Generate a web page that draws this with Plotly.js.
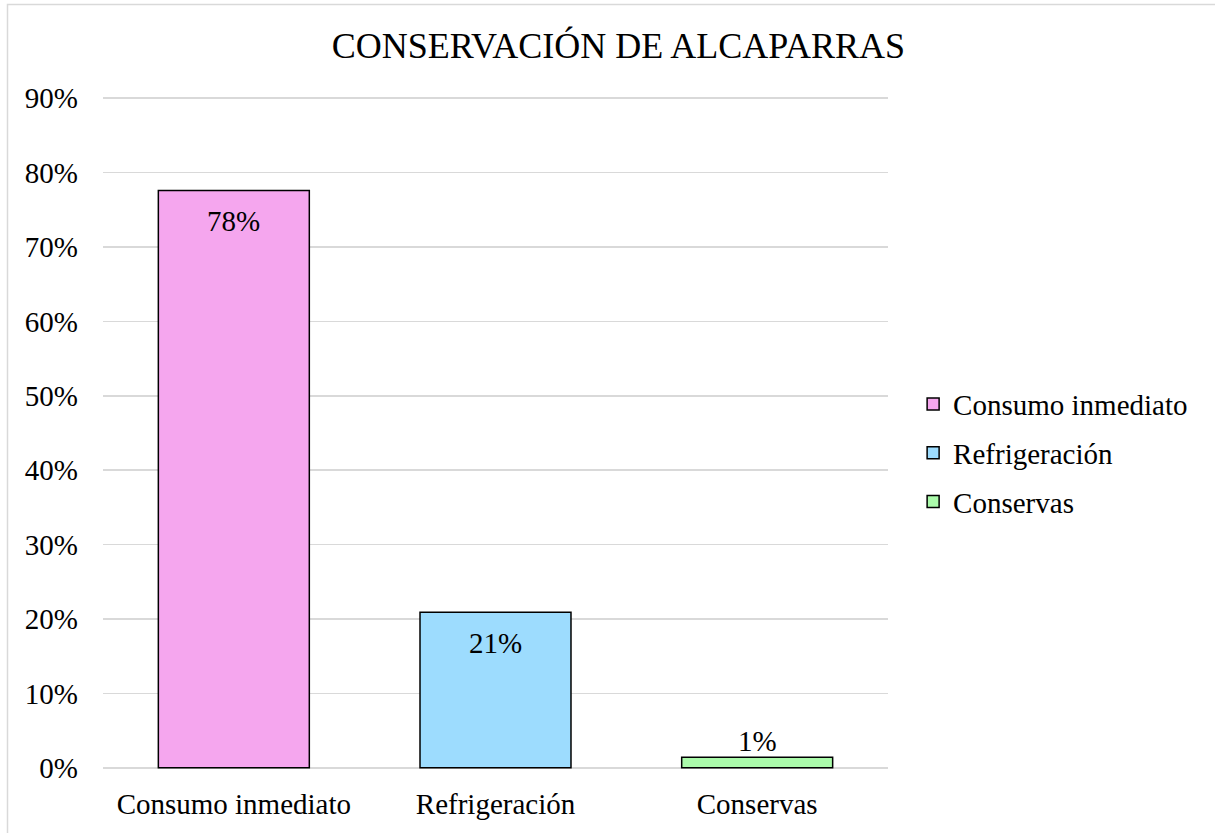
<!DOCTYPE html>
<html>
<head>
<meta charset="utf-8">
<script src="https://cdn.plot.ly/plotly-3.0.1.min.js"></script>
<style>html,body{margin:0;padding:0;background:#fff;}#chart{width:1215px;height:833px;}</style>
</head>
<body>
<div id="chart"></div>
<script>
const categories = ["Consumo inmediato", "Refrigeración", "Conservas"];
const values = [0.776, 0.209, 0.014];
const labels = ["78%", "21%", "1%"];
const colors = ["#F5A6EE", "#9DDCFE", "#ABFBAB"];
const yTicks = [0, 0.1, 0.2, 0.3, 0.4, 0.5, 0.6, 0.7, 0.8, 0.9];
const yTickText = ["0%", "10%", "20%", "30%", "40%", "50%", "60%", "70%", "80%", "90%"];

const FONT = "'Liberation Serif', 'Times New Roman', serif";

const traces = categories.map((c, i) => ({
  type: "bar",
  name: c,
  x: [c],
  y: [values[i]],
  width: 0.577,
  marker: {color: colors[i], line: {color: "#000", width: 1.5}},
  legendgroup: "g" + i,
  hoverinfo: "skip"
}));

const annotations = categories.map((c, i) => {
  const inside = values[i] > 0.05;
  return {
    x: c, y: values[i], xref: "x", yref: "y",
    text: labels[i], showarrow: false,
    yanchor: "middle", yshift: inside ? -31 : 16,
    font: {family: FONT, size: 29, color: "#000"}
  };
});

const layout = {
  width: 1215, height: 833,
  margin: {l: 103, r: 327, t: 96, b: 63, pad: 0},
  paper_bgcolor: "#fff", plot_bgcolor: "#fff",
  font: {family: FONT, size: 29, color: "#000"},
  title: {text: "CONSERVACIÓN DE ALCAPARRAS", font: {family: FONT, size: 36, color: "#000"},
          x: 0.509, xref: "container", y: 0.945, yref: "container", xanchor: "center", yanchor: "middle"},
  barmode: "overlay",
  showlegend: true,
  legend: {x: 1.032, xanchor: "left", y: 0.47, yanchor: "middle", traceorder: "grouped",
           tracegroupgap: 8, font: {family: FONT, size: 29, color: "#000"}, bgcolor: "rgba(0,0,0,0)"},
  xaxis: {type: "category", categoryorder: "array", categoryarray: categories,
          showgrid: false, zeroline: false, showline: false, ticks: "", ticklabelstandoff: 14,
          tickfont: {family: FONT, size: 29, color: "#000"}, fixedrange: true},
  yaxis: {range: [-0.003, 0.903], tickvals: yTicks, ticktext: yTickText, showgrid: true,
          gridcolor: "#d9d9d9", gridwidth: 1.5, zeroline: false, showline: false, ticks: "",
          ticklabelstandoff: 24, tickfont: {family: FONT, size: 29, color: "#000"}, fixedrange: true},
  annotations: annotations,
  shapes: [{type: "rect", xref: "paper", yref: "paper",
            x0: (7.5 - 103) / 785, x1: (1230 - 103) / 785,
            y0: (770 - 850) / 674, y1: (770 - 4.5) / 674,
            line: {color: "#d9d9d9", width: 1.5}, fillcolor: "rgba(0,0,0,0)", layer: "below"}]
};

Plotly.newPlot("chart", traces, layout, {displayModeBar: false, staticPlot: true});
</script>
</body>
</html>
